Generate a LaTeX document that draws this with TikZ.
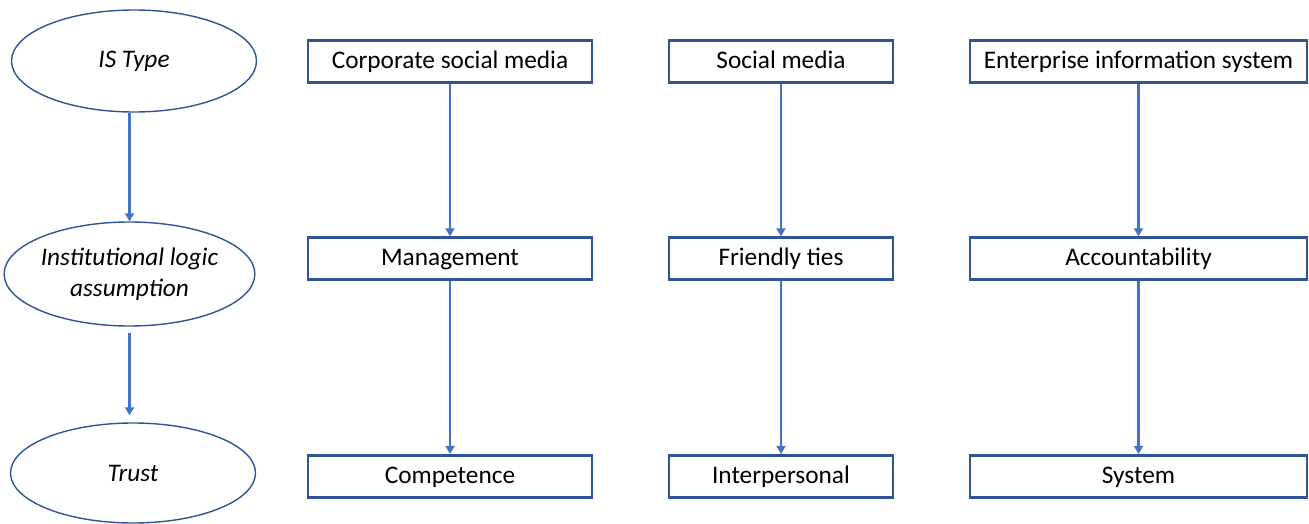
\documentclass[tikz,border=0pt]{standalone}
\usepackage{fontspec}
\setmainfont{Carlito}
\usepackage{tikz}
\usetikzlibrary{arrows.meta,positioning,shapes.geometric}
\definecolor{Frame}{HTML}{2F5597}
\definecolor{Link}{HTML}{4472C4}

\begin{document}
\begin{tikzpicture}[
  lvl/.style={ellipse,draw=Frame,line width=0.8pt,minimum width=4.9cm,minimum height=2.04cm,align=center,font=\fontsize{14.4}{17.5}\selectfont\itshape,inner sep=0pt},
  cell/.style={draw=Frame,line width=1.5pt,minimum height=0.84cm,inner sep=0pt,text height=11.6pt,text depth=3.3pt,font=\fontsize{14.4}{17}\selectfont},
  arrow/.style={-{Triangle[length=0.16cm,width=0.18cm]},line width=1.4pt,draw=Link}
]
\useasboundingbox (0,0) rectangle (26.18,-10.48);

% levels on the left
\node[lvl] (istype) at (2.68,-1.22) {IS Type};
\node[lvl,minimum height=2.08cm] (logic) at (2.59,-5.48) {Institutional logic\\assumption};
\node[lvl,minimum height=2.0cm] (trust) at (2.66,-9.46) {Trust};

% top row
\node[cell,minimum width=5.68cm] (corp) at (9.0,-1.23) {Corporate social media};
\node[cell,minimum width=4.48cm] (social) at (15.62,-1.23) {Social media};
\node[cell,minimum width=6.74cm] (eis) at (22.77,-1.23) {Enterprise information system};

% middle row
\node[cell,minimum width=5.68cm,below=3.05cm of corp] (mgmt) {Management};
\node[cell,minimum width=4.48cm,below=3.05cm of social] (ties) {Friendly ties};
\node[cell,minimum width=6.74cm,below=3.05cm of eis] (acct) {Accountability};

% bottom row
\node[cell,minimum width=5.68cm,below=3.46cm of mgmt] (comp) {Competence};
\node[cell,minimum width=4.48cm,below=3.46cm of ties] (inter) {Interpersonal};
\node[cell,minimum width=6.74cm,below=3.46cm of acct] (sys) {System};

\draw[arrow] (logic.north |- istype.south) -- (logic.north);
\draw[arrow,shorten <=0.12cm,shorten >=0.14cm] (logic.south) -- (logic.south |- trust.north);

\draw[arrow] (corp) -- (mgmt);
\draw[arrow] (mgmt) -- (comp);
\draw[arrow] (social) -- (ties);
\draw[arrow] (ties) -- (inter);
\draw[arrow] (eis) -- (acct);
\draw[arrow] (acct) -- (sys);
\end{tikzpicture}
\end{document}
